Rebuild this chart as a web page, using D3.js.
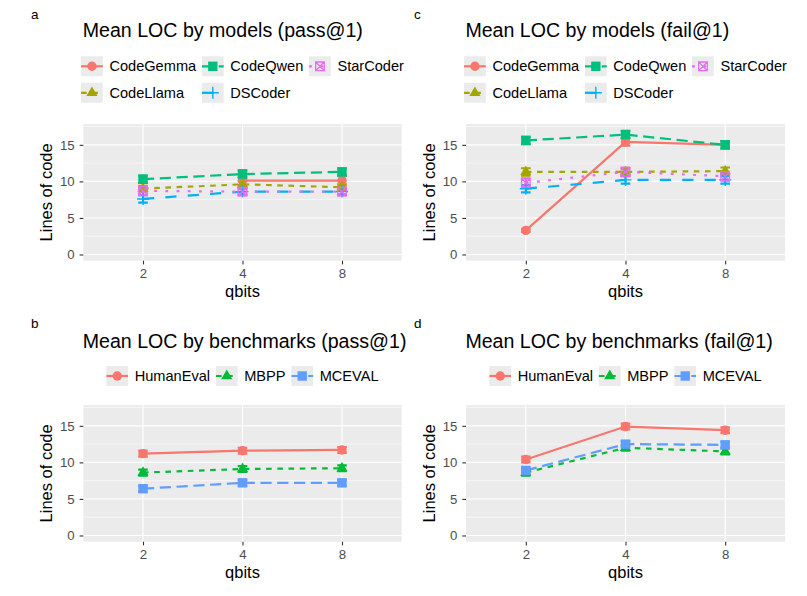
<!DOCTYPE html>
<html>
<head>
<meta charset="utf-8">
<script src="https://cdn.jsdelivr.net/npm/d3@7"></script>
<style>
  body { margin: 0; background: #fff; }
  svg { font-family: "Liberation Sans", Arial, sans-serif; }
</style>
</head>
<body>
<div id="vis"></div>
<script>
// categories
const QBITS = ["2", "4", "8"];
const MODELS = ["CodeGemma", "CodeLlama", "CodeQwen", "DSCoder", "StarCoder"];
const BENCHMARKS = ["HumanEval", "MBPP", "MCEVAL"];
const Y_TICKS = [0, 5, 10, 15];
const Y_MINOR = [2.5, 7.5, 12.5, 17.5];

// mean LOC by models, pass@1 (2, 4, 8 qbits)
const passCodeGemma = [null, 10.1, 10.1];
const passCodeLlama = [9.0, 9.6, 9.2];
const passCodeQwen = [10.3, 11.0, 11.3];
const passDSCoder = [7.6, 8.6, 8.6];
const passStarCoder = [8.7, 8.6, 8.6];
const passModelErr = [[null, 0.6, 0.7], [0.4, 0.5, 0.4], [0.5, 0.5, 0.5], [0.5, 0.4, 0.4], [0.6, 0.5, 0.5]];

// mean LOC by models, fail@1
const failCodeGemma = [3.3, 15.4, 15.0];
const failCodeLlama = [11.3, 11.3, 11.4];
const failCodeQwen = [15.6, 16.4, 15.0];
const failDSCoder = [9.0, 10.2, 10.2];
const failStarCoder = [9.8, 11.3, 10.7];
const failModelErr = [[0.2, 0.5, 0.5], [0.5, 0.5, 0.5], [0.5, 0.5, 0.5], [0.5, 0.5, 0.5], [0.6, 0.6, 0.6]];

// mean LOC by benchmarks
const passHumanEval = [11.2, 11.6, 11.7];
const passMBPP = [8.6, 9.1, 9.2];
const passMCEVAL = [6.4, 7.2, 7.2];
const passBenchErr = [[0.4, 0.4, 0.4], [0.4, 0.4, 0.4], [0.4, 0.4, 0.4]];

const failHumanEval = [10.4, 14.9, 14.4];
const failMBPP = [8.6, 12.0, 11.5];
const failMCEVAL = [8.9, 12.5, 12.4];
const failBenchErr = [[0.4, 0.4, 0.4], [0.4, 0.4, 0.4], [0.4, 0.4, 0.4]];

// ggplot default hue palettes, shapes, linetypes
const MODEL_COLORS = ["#F8766D", "#A3A500", "#00BF7D", "#00B0F6", "#E76BF3"];
const BENCH_COLORS = ["#F8766D", "#00BA38", "#619CFF"];
const SHAPES = ["circle", "triangle", "square", "plus", "squarecross"];
const DU = 2.8;
const DASHES = [null, [2 * DU, 2 * DU], [4 * DU, 2 * DU], [4 * DU, 4 * DU], [1 * DU, 3 * DU]];

const W = 807, H = 596;
const svg = d3.select("#vis").append("svg").attr("width", W).attr("height", H);

function series(names, arrays, errs, colors) {
  return names.map((n, i) => ({
    name: n, color: colors[i], shape: SHAPES[i], dash: DASHES[i],
    pts: QBITS.map((q, j) => ({ q: q, v: arrays[i][j], e: errs[i][j] }))
  }));
}

const panels = [
  { tag: "a", title: "Mean LOC by models (pass@1)", x0: 83.3, x1: 401.7, y0: 124, y1: 260.7, tagX: 31, tagY: 19, titleY: 37.3, legRows: [66.3, 92.8], nrow: 2,
    data: series(MODELS, [passCodeGemma, passCodeLlama, passCodeQwen, passDSCoder, passStarCoder], passModelErr, MODEL_COLORS) },
  { tag: "c", title: "Mean LOC by models (fail@1)", x0: 466, x1: 785, y0: 124, y1: 260.7, tagX: 414, tagY: 19, titleY: 37.3, legRows: [66.3, 92.8], nrow: 2,
    data: series(MODELS, [failCodeGemma, failCodeLlama, failCodeQwen, failDSCoder, failStarCoder], failModelErr, MODEL_COLORS) },
  { tag: "b", title: "Mean LOC by benchmarks (pass@1)", x0: 83.3, x1: 401.7, y0: 405, y1: 541.7, tagX: 31, tagY: 328, titleY: 348.3, legRows: [376], nrow: 1,
    data: series(BENCHMARKS, [passHumanEval, passMBPP, passMCEVAL], passBenchErr, BENCH_COLORS) },
  { tag: "d", title: "Mean LOC by benchmarks (fail@1)", x0: 466, x1: 785, y0: 405, y1: 541.7, tagX: 414, tagY: 328, titleY: 348.3, legRows: [376], nrow: 1,
    data: series(BENCHMARKS, [failHumanEval, failMBPP, failMCEVAL], failBenchErr, BENCH_COLORS) }
];

function drawShape(g, shape, color) {
  if (shape === "circle") {
    g.append("circle").attr("r", 4.7).attr("fill", color);
  } else if (shape === "triangle") {
    g.append("path").attr("d", "M0,-6.4L5.6,3.2L-5.6,3.2Z").attr("fill", color);
  } else if (shape === "square") {
    g.append("path").attr("d", "M-4.7,-4.7h9.4v9.4h-9.4Z").attr("fill", color);
  } else if (shape === "plus") {
    g.append("path").attr("d", "M-6,0H6M0,-6V6").attr("stroke", color).attr("stroke-width", 1.4).attr("fill", "none");
  } else {
    g.append("path").attr("d", "M-4.3,-4.3h8.6v8.6h-8.6ZM-4.3,-4.3L4.3,4.3M4.3,-4.3L-4.3,4.3").attr("stroke", color).attr("stroke-width", 1.3).attr("fill", "none");
  }
}

panels.forEach(p => {
  const X = d3.scalePoint().domain(QBITS).range([p.x0, p.x1]).padding(0.6);
  const Y = d3.scaleLinear().domain([-0.85, 17.85]).range([p.y1, p.y0]);
  const g = svg.append("g");

  // panel background + grid
  g.append("rect").attr("x", p.x0).attr("y", p.y0).attr("width", p.x1 - p.x0).attr("height", p.y1 - p.y0).attr("fill", "#EBEBEB");
  g.selectAll(".minor").data(Y_MINOR).enter().append("line")
    .attr("x1", p.x0).attr("x2", p.x1).attr("y1", d => Y(d)).attr("y2", d => Y(d))
    .attr("stroke", "#fff").attr("stroke-width", 0.55);
  g.selectAll(".majory").data(Y_TICKS).enter().append("line")
    .attr("x1", p.x0).attr("x2", p.x1).attr("y1", d => Y(d)).attr("y2", d => Y(d))
    .attr("stroke", "#fff").attr("stroke-width", 1.1);
  g.selectAll(".majorx").data(QBITS).enter().append("line")
    .attr("x1", d => X(d)).attr("x2", d => X(d)).attr("y1", p.y0).attr("y2", p.y1)
    .attr("stroke", "#fff").attr("stroke-width", 1.1);

  // axes
  const ya = g.append("g").attr("transform", "translate(" + p.x0 + ",0)")
    .call(d3.axisLeft(Y).tickValues(Y_TICKS).tickSize(3.7).tickPadding(5));
  const xa = g.append("g").attr("transform", "translate(0," + p.y1 + ")")
    .call(d3.axisBottom(X).tickSize(3.7).tickPadding(4.5));
  [ya, xa].forEach(a => {
    a.attr("font-size", null).attr("font-family", null);
    a.select(".domain").remove();
    a.selectAll(".tick line").attr("stroke", "#333333").attr("stroke-width", 1.1);
    a.selectAll(".tick text").attr("fill", "#4D4D4D").style("font-size", "13.2px");
  });

  const yTitleX = p.x0 - 31.3;
  g.append("text").attr("transform", "translate(" + yTitleX + "," + ((p.y0 + p.y1) / 2) + ") rotate(-90)")
    .attr("text-anchor", "middle").attr("font-size", "16.5px").attr("fill", "#000")
    .text("Lines of code");
  g.append("text").attr("x", (p.x0 + p.x1) / 2).attr("y", p.y1 + 36).attr("text-anchor", "middle")
    .attr("font-size", "16.5px").attr("fill", "#000").text("qbits");

  // titles
  g.append("text").attr("x", p.x0 - 0.6).attr("y", p.titleY).attr("font-size", "19.6px").attr("fill", "#000").text(p.title);
  g.append("text").attr("x", p.tagX).attr("y", p.tagY).attr("font-size", "13.5px").attr("fill", "#000").text(p.tag);

  // lines
  const line = d3.line().defined(d => d.v != null).x(d => X(d.q)).y(d => Y(d.v));
  g.selectAll(".series").data(p.data).enter().append("path")
    .attr("d", d => line(d.pts)).attr("fill", "none")
    .attr("stroke", d => d.color).attr("stroke-width", 2.2)
    .attr("stroke-dasharray", d => d.dash ? d.dash.join(",") : null);

  // error bars
  p.data.forEach(s => {
    s.pts.filter(d => d.v != null && d.e != null).forEach(d => {
      const cx = X(d.q), hi = Y(d.v + d.e), lo = Y(d.v - d.e);
      g.append("path")
        .attr("d", "M" + (cx - 4.8) + "," + hi + "H" + (cx + 4.8) + "M" + cx + "," + hi + "V" + lo + "M" + (cx - 4.8) + "," + lo + "H" + (cx + 4.8))
        .attr("stroke", s.color).attr("stroke-width", 2.2).attr("fill", "none");
    });
  });

  // points
  p.data.forEach(s => {
    s.pts.filter(d => d.v != null).forEach(d => {
      const pg = g.append("g").attr("transform", "translate(" + X(d.q) + "," + Y(d.v) + ")");
      drawShape(pg, s.shape, s.color);
    });
  });

  // legend (column-major, centred on the panel)
  const KW = 21.7, KH = 20, LX = 28.3, GAP = 5.8;
  const ncol = Math.ceil(p.data.length / p.nrow);
  const leg = g.append("g");
  const items = p.data.map((s, i) => {
    const ig = leg.append("g");
    ig.append("rect").attr("x", 0).attr("y", -KH / 2).attr("width", KW).attr("height", KH).attr("fill", "#EBEBEB");
    ig.append("line").attr("x1", 0).attr("x2", KW).attr("y1", 0).attr("y2", 0)
      .attr("stroke", s.color).attr("stroke-width", 2.2)
      .attr("stroke-dasharray", s.dash ? s.dash.join(",") : null);
    const sg = ig.append("g").attr("transform", "translate(" + KW / 2 + ",0)");
    drawShape(sg, s.shape, s.color);
    const t = ig.append("text").attr("x", LX).attr("y", 0).attr("dy", "0.35em")
      .attr("font-size", "14.6px").attr("fill", "#000").text(s.name);
    return { g: ig, w: t.node().getComputedTextLength(), col: Math.floor(i / p.nrow), row: i % p.nrow };
  });
  const colW = d3.range(ncol).map(c => LX + d3.max(items.filter(it => it.col === c), it => it.w));
  const total = d3.sum(colW) + GAP * (ncol - 1);
  let start = (p.x0 + p.x1) / 2 - total / 2;
  const colX = [];
  colW.forEach(w => { colX.push(start); start += w + GAP; });
  items.forEach(it => it.g.attr("transform", "translate(" + colX[it.col] + "," + p.legRows[it.row] + ")"));
});
</script>
</body>
</html>
